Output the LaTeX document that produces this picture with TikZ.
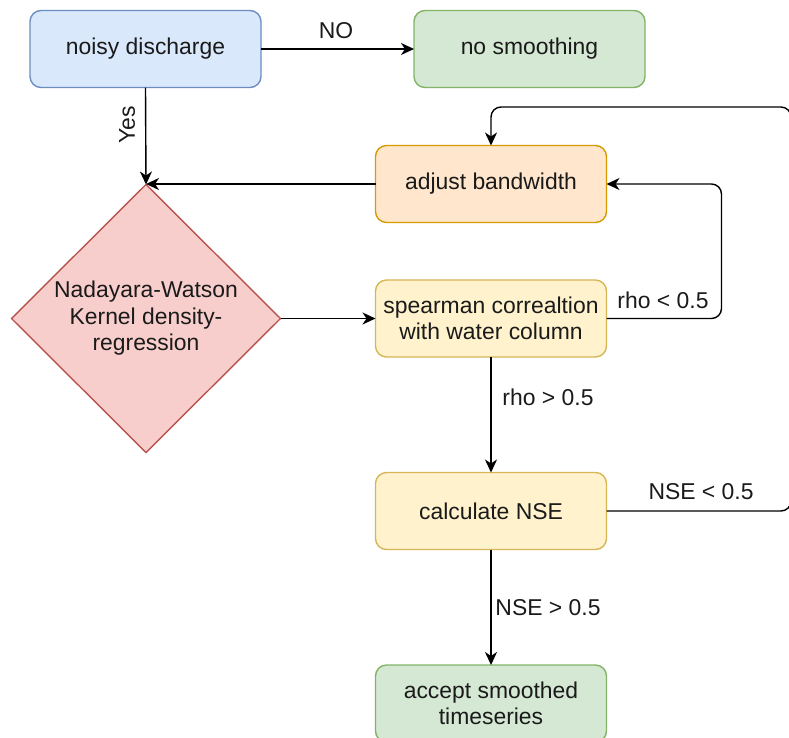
\documentclass[tikz,border=0pt]{standalone}
\usepackage{fontspec}
\setmainfont{Liberation Sans}
\usetikzlibrary{arrows.meta,shapes.geometric}

\definecolor{txt}{HTML}{1A1A1A}
\definecolor{blueF}{HTML}{DAE8FC}\definecolor{blueD}{HTML}{6C8EBF}
\definecolor{greenF}{HTML}{D5E8D4}\definecolor{greenD}{HTML}{82B366}
\definecolor{orangeF}{HTML}{FFE6CC}\definecolor{orangeD}{HTML}{D79B00}
\definecolor{redF}{HTML}{F8CECC}\definecolor{redD}{HTML}{B85450}
\definecolor{yellowF}{HTML}{FFF2CC}\definecolor{yellowD}{HTML}{D6B656}

\tikzset{
  lbl/.style={font=\fontsize{22.9}{26.5}\selectfont, text=txt, inner sep=0pt, align=center},
  box/.style={lbl, draw, line width=1.4pt, rounded corners=11pt,
    minimum width=231pt, minimum height=77pt, outer sep=0pt},
  bluebox/.style={box, fill=blueF, draw=blueD},
  greenbox/.style={box, fill=greenF, draw=greenD},
  orangebox/.style={box, fill=orangeF, draw=orangeD},
  yellowbox/.style={box, fill=yellowF, draw=yellowD},
  decision/.style={lbl, diamond, aspect=1, draw=redD, fill=redF, line width=1.4pt,
    minimum width=269pt, minimum height=268pt, outer sep=0pt},
  arr/.style={draw=black, line width=1.4pt, rounded corners=10pt,
    -{Stealth[length=13pt, width=12pt, inset=4pt]}}
}

\begin{document}
\begin{tikzpicture}[x=1pt, y=-1pt]
\useasboundingbox (0,0) rectangle (789,737);

% process steps
\node[bluebox]   (nd) at (145.5,49)  {noisy discharge};
\node[greenbox]  (ns) at (529.5,49)  {no smoothing};
\node[orangebox] (ab) at (491,184)   {adjust bandwidth};
\node[decision]  (nw) at (146,318.5) {Nadayara-Watson\\Kernel density-\\regression};
\node[yellowbox] (sp) at (491,318.5) {spearman correaltion\\with water column};
\node[yellowbox] (cn) at (491,511)   {calculate NSE};
\node[greenbox]  (ac) at (491,703.5) {accept smoothed\\timeseries};

% corner of the NSE feedback loop, just past the right edge
\coordinate (loop) at (791,107);

% connectors
\draw[arr] (nd) -- (ns);
\draw[arr] (nd.south) -- (nw.north);
\draw[arr] (ab.west) -- (ab.west -| nw.north);
\draw[arr] (nw.east) -- (sp.west);
\draw[arr] (sp.east) -- ++(115,0) |- (ab.east);
\draw[arr] (sp.south) -- (cn.north);
\draw[arr] (cn.east) -| (loop) -| (ab.north);
\draw[arr] (cn.south) -- (ac.north);

% edge labels
\node[lbl] (lno)  at (336,31)  {NO};
\node[lbl, rotate=90] (lyes) at (127,125) {Yes};
\node[lbl] (lrl)  at (663,300) {rho < 0.5};
\node[lbl] (lrg)  at (548,397) {rho > 0.5};
\node[lbl] (lnl)  at (701,492) {NSE < 0.5};
\node[lbl] (lng)  at (548,608) {NSE > 0.5};
\end{tikzpicture}
\end{document}
